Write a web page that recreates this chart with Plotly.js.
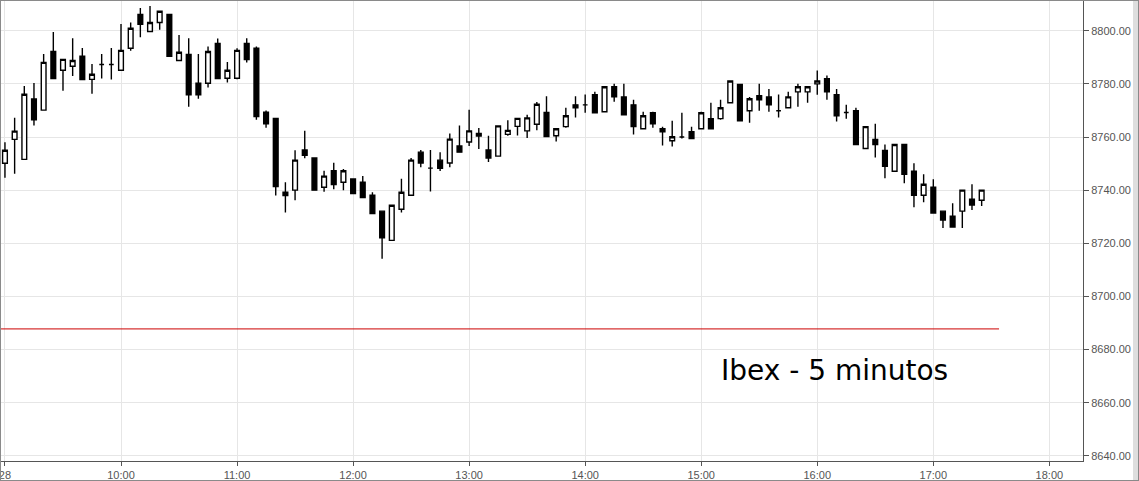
<!DOCTYPE html>
<html>
<head>
<meta charset="utf-8">
<script src="https://cdn.plot.ly/plotly-3.0.1.min.js"></script>
<style>
html,body{margin:0;padding:0;background:#fff;}
#wrap{position:relative;width:1139px;height:481px;overflow:hidden;}
#chart{position:absolute;left:0;top:0;width:1139px;height:481px;}
#frame{position:absolute;left:0;top:0;width:1139px;height:481px;box-sizing:border-box;border:1px solid #8a8a8a;pointer-events:none;}
#strip{position:absolute;left:1133px;top:0;width:5px;height:481px;background:#dedede;pointer-events:none;}
</style>
</head>
<body>
<div id="wrap"><div id="chart"></div><div id="strip"></div><div id="frame"></div></div>
<script>
const day = "2016-09-28";
const times = [
"09:00","09:05","09:10","09:15","09:20","09:25","09:30","09:35","09:40","09:45","09:50","09:55",
"10:00","10:05","10:10","10:15","10:20","10:25","10:30","10:35","10:40","10:45","10:50","10:55",
"11:00","11:05","11:10","11:15","11:20","11:25","11:30","11:35","11:40","11:45","11:50","11:55",
"12:00","12:05","12:10","12:15","12:20","12:25","12:30","12:35","12:40","12:45","12:50","12:55",
"13:00","13:05","13:10","13:15","13:20","13:25","13:30","13:35","13:40","13:45","13:50","13:55",
"14:00","14:05","14:10","14:15","14:20","14:25","14:30","14:35","14:40","14:45","14:50","14:55",
"15:00","15:05","15:10","15:15","15:20","15:25","15:30","15:35","15:40","15:45","15:50","15:55",
"16:00","16:05","16:10","16:15","16:20","16:25","16:30","16:35","16:40","16:45","16:50","16:55",
"17:00","17:05","17:10","17:15","17:20","17:25"];
const openV = [
8750.1,8759.1,8751.6,8774.3,8770.1,8792.2,8785.1,8786.6,8790.4,8781.7,8787.3,8787.3,
8785.1,8793.4,8806.1,8799.7,8803.1,8806.1,8788.8,8791.1,8780.2,8780.2,8795.2,8782.1,
8782.1,8795.2,8793.4,8769.3,8767.0,8739.2,8740.0,8755.1,8752.1,8741.1,8747.3,8743.0,
8744.2,8743.0,8738.1,8732.1,8721.1,8732.8,8738.1,8754.3,8748.3,8751.3,8750.2,8756.6,
8758.1,8761.3,8755.1,8752.8,8761.0,8764.0,8762.3,8764.8,8769.2,8760.5,8763.9,8772.1,
8772.1,8775.9,8769.5,8778.9,8775.1,8772.1,8763.1,8769.1,8763.1,8758.6,8760.0,8762.0,
8763.1,8766.9,8766.9,8772.9,8779.8,8769.9,8775.5,8775.1,8769.9,8771.0,8777.0,8777.0,
8780.0,8781.9,8775.9,8769.2,8769.9,8755.7,8759.1,8754.9,8747.1,8757.2,8747.1,8738.1,
8741.1,8732.1,8730.2,8732.1,8736.6,8736.2];
const highV = [
8758.0,8767.2,8779.2,8780.3,8791.2,8799.5,8789.2,8797.2,8793.5,8787.5,8791.2,8793.5,
8802.5,8803.1,8808.5,8809.3,8807.3,8806.1,8798.4,8797.2,8791.2,8794.1,8797.1,8788.2,
8793.4,8797.2,8794.1,8770.0,8767.0,8743.0,8755.0,8762.4,8752.1,8747.3,8750.3,8748.0,
8744.2,8745.3,8739.2,8732.1,8734.3,8744.3,8752.1,8755.1,8755.1,8754.3,8761.3,8764.3,
8770.3,8763.4,8760.5,8764.2,8766.3,8767.0,8768.4,8773.2,8775.3,8763.1,8771.0,8775.3,
8776.0,8777.0,8778.9,8780.0,8780.0,8774.0,8769.5,8769.5,8763.9,8766.1,8769.1,8763.9,
8769.5,8772.9,8774.0,8781.1,8780.0,8775.1,8780.0,8778.1,8776.0,8777.0,8780.0,8778.9,
8785.0,8783.1,8778.1,8772.1,8771.0,8763.9,8765.0,8757.2,8757.2,8757.2,8750.1,8746.0,
8744.1,8732.1,8735.1,8740.0,8742.2,8740.0];
const lowV = [
8744.7,8746.2,8751.6,8764.3,8770.1,8782.0,8777.4,8783.0,8781.6,8776.3,8782.0,8781.6,
8785.1,8792.5,8797.5,8799.7,8800.4,8790.4,8788.8,8771.4,8774.4,8778.6,8782.0,8780.5,
8781.7,8788.0,8766.5,8763.5,8738.0,8731.6,8736.2,8752.0,8740.0,8739.4,8740.3,8740.0,
8738.5,8737.2,8731.2,8714.2,8721.1,8731.6,8738.1,8748.6,8739.5,8747.2,8748.6,8754.3,
8756.6,8755.5,8750.6,8752.8,8760.5,8760.6,8759.6,8762.5,8760.2,8758.3,8763.5,8767.3,
8769.1,8769.1,8769.5,8773.3,8768.4,8760.9,8762.8,8763.5,8756.8,8756.4,8759.4,8759.4,
8763.1,8763.1,8766.5,8772.9,8766.1,8765.4,8769.9,8769.5,8767.3,8771.0,8771.4,8772.9,
8775.9,8774.0,8765.8,8766.9,8757.2,8755.7,8752.3,8744.5,8747.1,8742.6,8733.6,8735.5,
8731.4,8725.8,8726.1,8725.8,8732.5,8734.0];
const closeV = [
8755.0,8762.2,8776.1,8766.5,8788.1,8782.0,8789.2,8788.8,8781.6,8783.6,8787.3,8787.3,
8792.6,8800.9,8802.4,8803.1,8807.3,8790.4,8791.9,8775.9,8775.9,8792.2,8782.0,8785.1,
8792.6,8789.1,8767.7,8765.0,8741.4,8738.0,8751.3,8753.1,8740.0,8745.3,8742.1,8747.3,
8738.7,8737.2,8731.2,8722.1,8734.3,8739.2,8751.3,8750.2,8748.3,8748.2,8759.2,8754.3,
8762.3,8760.4,8752.1,8764.2,8762.5,8767.0,8767.2,8772.3,8760.2,8763.1,8768.0,8771.0,
8772.1,8769.1,8778.9,8775.1,8768.4,8763.9,8768.0,8765.0,8762.0,8760.1,8760.0,8759.4,
8769.1,8763.1,8771.0,8781.1,8766.1,8774.4,8774.0,8772.1,8769.9,8775.1,8778.9,8778.9,
8781.1,8777.0,8768.0,8769.2,8757.2,8763.9,8757.2,8749.0,8757.2,8746.0,8738.1,8742.2,
8731.4,8728.8,8726.1,8740.0,8734.4,8740.0];
const tickTimes = ["09:00","10:00","11:00","12:00","13:00","14:00","15:00","16:00","17:00","18:00"];
const tickLabels = ["28","10:00","11:00","12:00","13:00","14:00","15:00","16:00","17:00","18:00"];
const yTicks = [8640,8660,8680,8700,8720,8740,8760,8780,8800];
const refLevel = 8687.8;
const refEnd = "17:34";
const titleText = "Ibex - 5 minutos";

const ts = t => day + " " + t;
const trace = {
  type: "candlestick",
  x: times.map(ts),
  open: openV, high: highV, low: lowV, close: closeV,
  increasing: {line: {color: "#000", width: 1.4}, fillcolor: "#ffffff"},
  decreasing: {line: {color: "#000", width: 1.4}, fillcolor: "#000000"},
  whiskerwidth: 0,
  hoverinfo: "none"
};
const layout = {
  width: 1139, height: 481,
  margin: {l: 0, r: 56, t: 0, b: 20, pad: 0},
  paper_bgcolor: "#fff", plot_bgcolor: "#fff",
  showlegend: false,
  font: {family: "Liberation Sans, Arial, sans-serif", size: 11, color: "#555"},
  xaxis: {
    type: "date",
    range: [day + " 08:57:26", day + " 18:17:24"],
    rangeslider: {visible: false},
    tickvals: tickTimes.map(ts), ticktext: tickLabels,
    ticklabeloverflow: "allow",
    showgrid: true, gridcolor: "#e6e6e6", gridwidth: 1,
    showline: true, linecolor: "#555", linewidth: 1,
    ticks: "outside", ticklen: 4, tickcolor: "#555",
    tickfont: {size: 11, color: "#555"},
    zeroline: false, fixedrange: true
  },
  yaxis: {
    side: "right",
    range: [8638.1, 8811.55],
    tickvals: yTicks, tickformat: ".2f",
    ticklabeloverflow: "allow",
    showgrid: true, gridcolor: "#e6e6e6", gridwidth: 1,
    showline: true, linecolor: "#555", linewidth: 1,
    ticks: "outside", ticklen: 5, tickcolor: "#555",
    tickfont: {size: 11, color: "#555"},
    zeroline: false, fixedrange: true
  },
  shapes: [{
    type: "line", xref: "x", yref: "y",
    x0: day + " 08:57:26", x1: ts(refEnd), y0: refLevel, y1: refLevel,
    line: {color: "#cc0000", width: 1}
  }],
  annotations: [{
    xref: "paper", yref: "paper", x: 0.6636, y: 0.196,
    xanchor: "left", yanchor: "middle", showarrow: false,
    text: titleText,
    font: {family: "DejaVu Sans", size: 28, color: "#000"}
  }]
};
Plotly.newPlot("chart", [trace], layout, {displayModeBar: false, staticPlot: true});
</script>
</body>
</html>
